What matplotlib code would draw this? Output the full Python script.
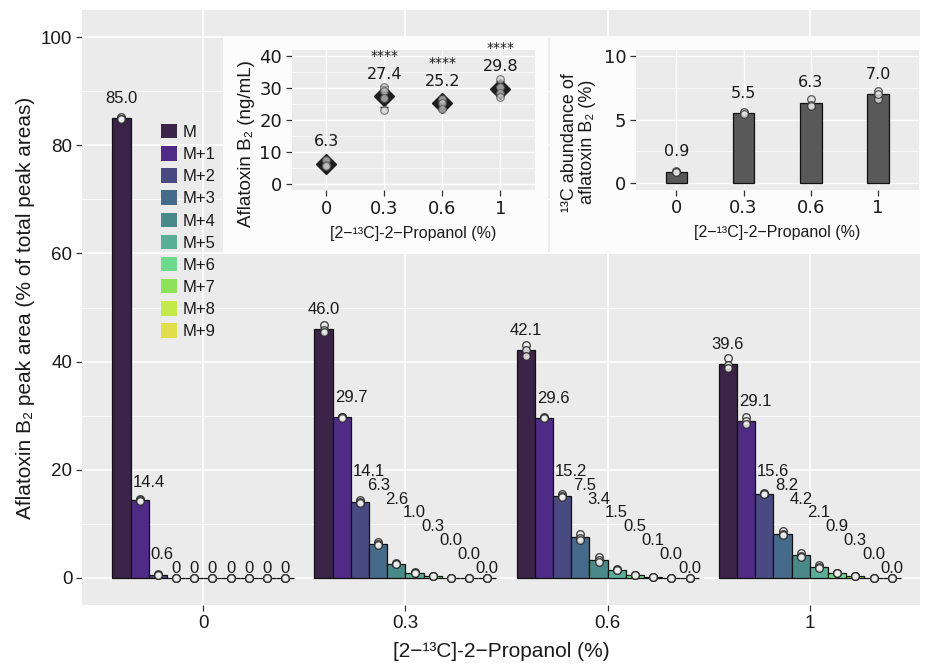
import numpy as np
import matplotlib
matplotlib.use('Agg')
import matplotlib.pyplot as plt
from matplotlib.patches import Rectangle, Patch

plt.rcParams['font.family'] = ['Liberation Sans', 'DejaVu Sans']

# ---------------- data ----------------
concentrations = ['0', '0.3', '0.6', '1']
isotopologues = ['M', 'M+1', 'M+2', 'M+3', 'M+4', 'M+5', 'M+6', 'M+7', 'M+8', 'M+9']
iso_colors = ['#3c2348', '#4f2b85', '#4a4a83', '#456a8a', '#4a8989', '#5bae96',
              '#6fd98e', '#8ee15a', '#c3ea4a', '#e1de4c']

mean_0 = [85.0, 14.4, 0.6, 0, 0, 0, 0, 0, 0, 0]
mean_03 = [46.0, 29.7, 14.1, 6.3, 2.6, 1.0, 0.3, 0.04, 0.02, 0.01]
mean_06 = [42.1, 29.6, 15.2, 7.5, 3.4, 1.5, 0.5, 0.1, 0.04, 0.01]
mean_1 = [39.6, 29.1, 15.6, 8.2, 4.2, 2.1, 0.9, 0.3, 0.04, 0.01]

rep_0 = [[85.3, 84.9, 84.8], [14.6, 14.4, 14.2], [0.7, 0.6, 0.5], [0, 0, 0], [0, 0, 0],
         [0, 0, 0], [0, 0, 0], [0, 0, 0], [0, 0, 0], [0, 0, 0]]
rep_03 = [[46.8, 45.8, 45.4], [29.8, 29.7, 29.6], [14.4, 14.0, 13.9], [6.6, 6.2, 6.1],
          [2.7, 2.6, 2.5], [1.1, 1.0, 0.9], [0.3, 0.3, 0.3], [0.04, 0.04, 0.04],
          [0.02, 0.02, 0.02], [0.01, 0.01, 0.01]]
rep_06 = [[43.0, 42.2, 41.1], [29.7, 29.6, 29.5], [15.5, 15.2, 14.9], [8.1, 7.3, 7.1],
          [3.9, 3.3, 3.0], [1.6, 1.5, 1.4], [0.5, 0.5, 0.5], [0.1, 0.1, 0.1],
          [0.04, 0.04, 0.04], [0.01, 0.01, 0.01]]
rep_1 = [[40.6, 39.4, 38.8], [29.7, 29.1, 28.5], [15.7, 15.6, 15.5], [8.6, 8.1, 7.9],
         [4.6, 4.1, 3.9], [2.4, 2.0, 1.9], [0.9, 0.9, 0.9], [0.3, 0.3, 0.3],
         [0.04, 0.04, 0.04], [0.01, 0.01, 0.01]]

conc_means = [6.3, 27.4, 25.2, 29.8]
conc_reps = [[7.4, 5.9, 5.6], [30.5, 29.2, 27.0, 23.0], [26.7, 25.3, 23.6], [32.8, 30.5, 28.6, 27.3]]
conc_stars = ['', '****', '****', '****']

c13_means = [0.9, 5.5, 6.3, 7.0]
c13_reps = [[0.95, 0.9, 0.85], [5.5, 5.6, 5.45], [6.6, 6.2, 6.1], [7.3, 6.6, 7.0]]

xlabel_txt = '[2\u2212\u00b9\u00b3C]-2\u2212Propanol (%)'

# ---------------- figure ----------------
W, H = 926, 663
fig = plt.figure(figsize=(W / 100, H / 100), dpi=100)
fig.patch.set_facecolor('white')

def fbox(l, t, r, b):
    return [l / W, 1 - b / H, (r - l) / W, (b - t) / H]

PANEL = '#ebebeb'
TXT = '#1a1a1a'

def style_gg(ax, tick_fs, family=None):
    ax.set_facecolor(PANEL)
    for s in ax.spines.values():
        s.set_visible(False)
    ax.tick_params(axis='both', length=4, width=0.9, color='#333333', pad=3,
                   labelsize=tick_fs, labelcolor=TXT)
    if family:
        for lab in ax.get_xticklabels() + ax.get_yticklabels():
            lab.set_family(family)
    ax.set_axisbelow(True)

# ---- main axes ----
ax = fig.add_axes(fbox(82, 10, 920, 605))
ax.set_zorder(0)
xc = np.arange(1, 5)
ax.set_xlim(0.4, 4.545)
ax.set_ylim(-5, 105)
ax.set_xticks(xc)
ax.set_xticklabels(concentrations)
ax.set_yticks([0, 20, 40, 60, 80, 100])
style_gg(ax, 13.5)
for yv in [10, 30, 50, 70, 90]:
    ax.axhline(yv, color='white', lw=0.6, zorder=0.5)
for yv in [0, 20, 40, 60, 80, 100]:
    ax.axhline(yv, color='white', lw=1.2, zorder=0.6)
for xv in xc:
    ax.axvline(xv, color='white', lw=1.2, zorder=0.6)

means = [mean_0, mean_03, mean_06, mean_1]
reps = [rep_0, rep_03, rep_06, rep_1]
n = len(isotopologues)
bw = 0.9 / n
label_sets = []
for g, (m, r) in enumerate(zip(means, reps)):
    xs = xc[g] + (np.arange(n) - (n - 1) / 2) * bw
    ax.bar(xs, m, width=bw, color=iso_colors, edgecolor='#111111', linewidth=0.9, zorder=2)
    for k in range(n):
        ax.scatter([xs[k]] * len(r[k]), r[k], s=30, facecolor='#eeeeee', edgecolor='#2a2a2a',
                   linewidth=1.0, alpha=0.85, zorder=3)
    texts = []
    for k in range(n):
        lab = '0' if m[k] == 0 else f'{m[k]:.1f}'
        t = ax.text(xs[k], m[k], lab, ha='center', va='center', fontsize=12, color=TXT, zorder=4)
        texts.append(t)
    label_sets.append((xs, m, r, texts))

# simple repel: labels that collide are stacked and nudged clear of taller left bars
fig.canvas.draw()
renderer = fig.canvas.get_renderer()
px_per_x = ax.bbox.width / (ax.get_xlim()[1] - ax.get_xlim()[0])
px_per_y = ax.bbox.height / (ax.get_ylim()[1] - ax.get_ylim()[0])
pad_x = 2 / px_per_x
half_h = 6 / px_per_y
pt_r = 3.5 / px_per_y
step = 2.55
for xs, m, r, texts in label_sets:
    widths = [t.get_window_extent(renderer).width / px_per_x for t in texts]
    ys = [0.0] * n
    lx = list(xs)
    for k in range(n - 1, -1, -1):
        ys[k] = m[k] + 1.8 + min(0.1 * m[k], 1.8)
        if k < n - 1 and abs(lx[k] - lx[k + 1]) < (widths[k] + widths[k + 1]) / 2 + 2 * pad_x:
            ys[k] = max(ys[k], ys[k + 1] + step)
        if k > 0:
            top_left = max(max(r[k - 1]), m[k - 1]) + pt_r
            if top_left > ys[k] - half_h:
                edge = xs[k - 1] + bw / 2
                lx[k] = max(lx[k], edge + pad_x + widths[k] / 2)
                if k < n - 1 and abs(lx[k] - lx[k + 1]) < (widths[k] + widths[k + 1]) / 2 + 2 * pad_x:
                    ys[k] = max(ys[k], ys[k + 1] + step)
    for t, xv, yv in zip(texts, lx, ys):
        t.set_position((xv, yv))

ax.set_xlabel(xlabel_txt, fontsize=15, color=TXT)
ax.set_ylabel('Aflatoxin B\u2082 peak area (% of total peak areas)', fontsize=15, color=TXT)
ax.xaxis.set_label_coords(0.5, -0.062)
ax.yaxis.set_label_coords(-0.056, 0.5)

handles = [Patch(facecolor=c, edgecolor='none', label=l) for c, l in zip(iso_colors, isotopologues)]
fig.legend(handles=handles, loc='upper left', bbox_to_anchor=(161 / W, 1 - 124 / H),
           frameon=False, fontsize=12, handlelength=0.96, handleheight=0.96,
           labelspacing=0.37, handletextpad=0.33, borderpad=0, borderaxespad=0,
           labelcolor=TXT)

# ---- inset backgrounds ----
fig.patches.append(Rectangle((223 / W, 1 - 254 / H), (548 - 223) / W, (254 - 37) / H,
                             transform=fig.transFigure, facecolor='#fcfcfc', edgecolor='none', zorder=0.5))
fig.patches.append(Rectangle((550 / W, 1 - 254 / H), (921 - 550) / W, (254 - 37) / H,
                             transform=fig.transFigure, facecolor='#fcfcfc', edgecolor='none', zorder=0.5))

# ---- inset 1 ----
a1 = fig.add_axes(fbox(291.7, 50, 535, 190))
a1.set_zorder(1)
a1.set_xlim(0.4, 4.6)
a1.set_ylim(-2, 42)
a1.set_xticks(xc)
a1.set_xticklabels(concentrations)
a1.set_yticks([0, 10, 20, 30, 40])
style_gg(a1, 13, 'DejaVu Sans')
for yv in [5, 15, 25, 35]:
    a1.axhline(yv, color='white', lw=0.5, zorder=0.5)
for yv in [0, 10, 20, 30, 40]:
    a1.axhline(yv, color='white', lw=1.0, zorder=0.6)
for xv in xc:
    a1.axvline(xv, color='white', lw=1.0, zorder=0.6)
for i in range(4):
    sd = np.std(conc_reps[i], ddof=1)
    a1.errorbar(xc[i], conc_means[i], yerr=sd, fmt='none', ecolor='#222222', elinewidth=1,
                capsize=3, zorder=2)
a1.plot(xc, conc_means, linestyle='none', marker='D', markersize=10, color='#1e1e1e', zorder=3)
for i in range(4):
    a1.scatter([xc[i]] * len(conc_reps[i]), conc_reps[i], s=30, facecolor='#cfcfcf',
               edgecolor='#555555', linewidth=0.9, alpha=0.7, zorder=4)
    a1.text(xc[i], conc_means[i] + 7, f'{conc_means[i]:.1f}', ha='center', va='center',
            fontsize=11.5, family='DejaVu Sans', color=TXT, zorder=5)
    if conc_stars[i]:
        a1.text(xc[i], conc_means[i] + 12.8, conc_stars[i], ha='center', va='center',
                fontsize=10, family='DejaVu Sans', color=TXT, zorder=5)
a1.set_xlabel(xlabel_txt, fontsize=11.5, color=TXT)
a1.set_ylabel('Aflatoxin B\u2082 (ng/mL)', fontsize=13.5, color=TXT)
a1.xaxis.set_label_coords(0.5, -0.255)
a1.yaxis.set_label_coords(-0.152, 0.33)

# ---- inset 2 ----
a2 = fig.add_axes(fbox(636, 50, 918.5, 189.5))
a2.set_zorder(1)
a2.set_xlim(0.4, 4.6)
a2.set_ylim(-0.5, 10.5)
a2.set_xticks(xc)
a2.set_xticklabels(concentrations)
a2.set_yticks([0, 5, 10])
style_gg(a2, 13, 'DejaVu Sans')
for yv in [2.5, 7.5]:
    a2.axhline(yv, color='white', lw=0.5, zorder=0.5)
for yv in [0, 5, 10]:
    a2.axhline(yv, color='white', lw=1.0, zorder=0.6)
for xv in xc:
    a2.axvline(xv, color='white', lw=1.0, zorder=0.6)
a2.bar(xc, c13_means, width=0.32, color='#595959', edgecolor='#111111', linewidth=0.9, zorder=2)
for i in range(4):
    a2.scatter([xc[i]] * len(c13_reps[i]), c13_reps[i], s=30, facecolor='#e0e0e0',
               edgecolor='#333333', linewidth=0.9, alpha=0.8, zorder=3)
    a2.text(xc[i], c13_means[i] + 1.6, f'{c13_means[i]:.1f}', ha='center', va='center',
            fontsize=11.5, family='DejaVu Sans', color=TXT, zorder=4)
a2.set_xlabel(xlabel_txt, fontsize=11.5, color=TXT)
a2.set_ylabel('\u00b9\u00b3C abundance of\naflatoxin B\u2082 (%)', fontsize=13, color=TXT,
              linespacing=1.1)
a2.xaxis.set_label_coords(0.5, -0.255)
a2.yaxis.set_label_coords(-0.142, 0.34)

fig.savefig('out.png', dpi=100)
